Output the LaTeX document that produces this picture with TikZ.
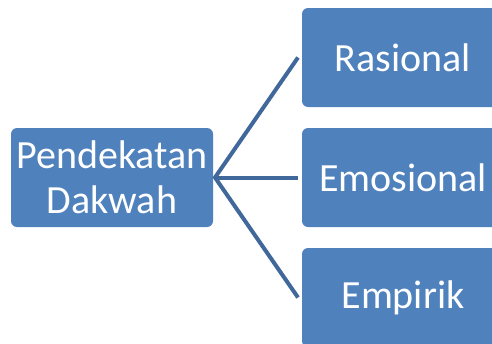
\documentclass[tikz,border=0pt]{standalone}
\usepackage{fontspec}
\setmainfont{Carlito}
\definecolor{boxblue}{HTML}{4F81BD}
\definecolor{linkblue}{HTML}{41689A}
\begin{document}
\begin{tikzpicture}[x=1pt,y=-1pt,
  card/.style={fill=boxblue, rounded corners=6pt, draw=none},
  label/.style={text=white, font=\fontsize{40}{45}\selectfont, align=center, inner sep=0pt},
  link/.style={draw=linkblue, line width=4pt}]
\useasboundingbox (0,0) rectangle (492,343);
\clip (0,0) rectangle (492,343);
% cards
\fill[card] (11,128) rectangle (213,227);
\fill[card] (302,8) rectangle (504,107);
\fill[card] (302,128) rectangle (504,227);
\fill[card] (302,248) rectangle (504,347);
% text
\node[label] (root) at (112,177.5) {Pendekatan\\Dakwah};
\node[label] (ras) at (403,57.5) {Rasional};
\node[label] (emo) at (403,177.5) {Emosional};
\node[label] (emp) at (403,297.5) {Empirik};
% branch point and connector ends
\coordinate (hub) at (215,177.5);
\coordinate (e1) at (298,57.5);
\coordinate (e2) at (298,177.5);
\coordinate (e3) at (298,297.5);
\draw[link] (e1) -- (hub) -- (e3);
\draw[link] (hub) -- (e2);
\end{tikzpicture}
\end{document}
